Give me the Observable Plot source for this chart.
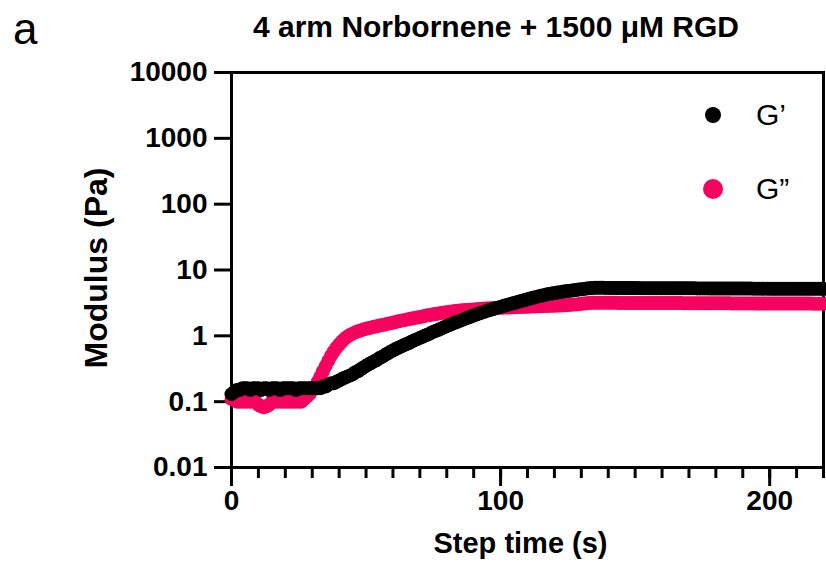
<!DOCTYPE html>
<html>
<head>
<meta charset="utf-8">
<script src="https://cdn.jsdelivr.net/npm/d3@7"></script>
<script src="https://cdn.jsdelivr.net/npm/@observablehq/plot@0.6"></script>
<style>
  html, body { margin: 0; padding: 0; background: #fff; }
  #wrap { position: relative; width: 826px; height: 574px; font-family: "Liberation Sans", Arial, sans-serif; color: #000; }
  #wrap svg { position: absolute; left: 0; top: 0; }
  .ovl { position: absolute; white-space: nowrap; line-height: 1; }
  .panel { left: 13px; top: 7px; font-size: 44px; }
  .title { left: 496px; top: 12px; transform: translateX(-50%); font-size: 30px; font-weight: bold; }
  .ylabel { left: 96px; top: 268px; transform: translate(-50%, -50%) rotate(-90deg); font-size: 32px; font-weight: bold; }
  .key-dot { position: absolute; border-radius: 50%; }
  .key-text { font-size: 30px; }
</style>
</head>
<body>
<div id="wrap">
  <div class="ovl panel">a</div>
  <div class="ovl title">4 arm Norbornene + 1500 μM RGD</div>
  <div class="ovl ylabel">Modulus (Pa)</div>
</div>
<script>
// Oscillatory time sweep, one reading per second from 0 to 220 s
const STEP = 1;

// Storage modulus G′ (Pa)
const storageModulus = [
  0.13, 0.14, 0.15, 0.15, 0.16, 0.16, 0.16, 0.15, 0.16, 0.16,
  0.16, 0.15, 0.16, 0.16, 0.15, 0.16, 0.16, 0.16, 0.15, 0.16,
  0.16, 0.16, 0.16, 0.16, 0.15, 0.16, 0.16, 0.16, 0.16, 0.16,
  0.16, 0.16, 0.16, 0.16, 0.17, 0.17, 0.18, 0.19, 0.19, 0.20,
  0.21, 0.22, 0.23, 0.24, 0.25, 0.26, 0.28, 0.29, 0.31, 0.33,
  0.35, 0.37, 0.39, 0.41, 0.43, 0.46, 0.48, 0.51, 0.54, 0.57,
  0.60, 0.63, 0.66, 0.69, 0.72, 0.75, 0.78, 0.82, 0.86, 0.89,
  0.93, 0.97, 1.01, 1.05, 1.10, 1.15, 1.19, 1.24, 1.29, 1.35,
  1.41, 1.46, 1.52, 1.58, 1.64, 1.70, 1.76, 1.83, 1.90, 1.97,
  2.04, 2.11, 2.18, 2.25, 2.32, 2.40, 2.47, 2.54, 2.61, 2.68,
  2.75, 2.83, 2.91, 2.99, 3.07, 3.16, 3.24, 3.33, 3.42, 3.51,
  3.60, 3.69, 3.78, 3.87, 3.97, 4.07, 4.15, 4.23, 4.31, 4.39,
  4.47, 4.54, 4.60, 4.67, 4.74, 4.80, 4.86, 4.92, 4.98, 5.04,
  5.10, 5.16, 5.22, 5.28, 5.34, 5.38, 5.38, 5.37, 5.36, 5.35,
  5.35, 5.34, 5.34, 5.33, 5.33, 5.33, 5.32, 5.32, 5.32, 5.31,
  5.31, 5.31, 5.30, 5.30, 5.30, 5.30, 5.29, 5.29, 5.29, 5.29,
  5.28, 5.28, 5.28, 5.28, 5.27, 5.27, 5.27, 5.27, 5.26, 5.26,
  5.26, 5.26, 5.26, 5.25, 5.25, 5.25, 5.25, 5.25, 5.24, 5.24,
  5.24, 5.24, 5.24, 5.23, 5.23, 5.23, 5.23, 5.23, 5.22, 5.22,
  5.22, 5.22, 5.22, 5.22, 5.21, 5.21, 5.21, 5.21, 5.21, 5.21,
  5.20, 5.20, 5.20, 5.20, 5.20, 5.20, 5.19, 5.19, 5.19, 5.19,
  5.19, 5.19, 5.18, 5.18, 5.18, 5.18, 5.18, 5.18, 5.17, 5.17, 5.17
];

// Loss modulus G″ (Pa)
const lossModulus = [
  0.11, 0.11, 0.10, 0.10, 0.10, 0.10, 0.10, 0.10, 0.10, 0.10,
  0.09, 0.085, 0.082, 0.085, 0.09, 0.10, 0.10, 0.10, 0.10, 0.10,
  0.10, 0.10, 0.10, 0.10, 0.10, 0.10, 0.10, 0.11, 0.12, 0.13,
  0.15, 0.17, 0.20, 0.24, 0.29, 0.35, 0.42, 0.50, 0.58, 0.66,
  0.74, 0.82, 0.90, 0.97, 1.03, 1.08, 1.13, 1.17, 1.21, 1.25,
  1.28, 1.31, 1.34, 1.37, 1.40, 1.43, 1.46, 1.49, 1.52, 1.55,
  1.58, 1.62, 1.66, 1.70, 1.73, 1.76, 1.80, 1.83, 1.87, 1.90,
  1.93, 1.97, 2.01, 2.05, 2.08, 2.12, 2.15, 2.19, 2.22, 2.26,
  2.29, 2.32, 2.35, 2.38, 2.40, 2.42, 2.44, 2.46, 2.48, 2.50,
  2.52, 2.54, 2.56, 2.57, 2.59, 2.60, 2.62, 2.63, 2.65, 2.66,
  2.67, 2.68, 2.69, 2.70, 2.71, 2.72, 2.73, 2.74, 2.75, 2.76,
  2.77, 2.78, 2.79, 2.80, 2.81, 2.82, 2.83, 2.84, 2.85, 2.86,
  2.87, 2.88, 2.89, 2.90, 2.92, 2.94, 2.96, 2.98, 3.00, 3.03,
  3.06, 3.09, 3.12, 3.15, 3.17, 3.18, 3.18, 3.18, 3.18, 3.17,
  3.17, 3.17, 3.17, 3.17, 3.16, 3.16, 3.16, 3.16, 3.16, 3.16,
  3.16, 3.15, 3.15, 3.15, 3.15, 3.15, 3.15, 3.15, 3.15, 3.14,
  3.14, 3.14, 3.14, 3.14, 3.14, 3.14, 3.14, 3.14, 3.13, 3.13,
  3.13, 3.13, 3.13, 3.13, 3.13, 3.13, 3.13, 3.12, 3.12, 3.12,
  3.12, 3.12, 3.12, 3.12, 3.12, 3.12, 3.11, 3.11, 3.11, 3.11,
  3.11, 3.11, 3.11, 3.11, 3.11, 3.10, 3.10, 3.10, 3.10, 3.10,
  3.10, 3.10, 3.10, 3.10, 3.10, 3.10, 3.09, 3.09, 3.09, 3.09,
  3.09, 3.09, 3.09, 3.09, 3.09, 3.09, 3.08, 3.08, 3.08, 3.08, 3.08
];

const seriesNames = ["G’", "G”"];
const seriesColors = ["#000000", "#f5045f"];

const yTicks = [0.01, 0.1, 1, 10, 100, 1000, 10000];
const xTicks = [0, 100, 200];
const xMinorTicks = [0, 10, 20, 30, 40, 50, 60, 70, 80, 90, 100, 110,
                     120, 130, 140, 150, 160, 170, 180, 190, 200, 210, 220];

const toRows = (values) => values.map((v, i) => ({t: i * STEP, v}));
const storageRows = toRows(storageModulus);
const lossRows = toRows(lossModulus);

const font = "'Liberation Sans', Arial, sans-serif";

const chart = Plot.plot({
  width: 826,
  height: 574,
  marginLeft: 231,
  marginRight: 3,
  marginTop: 72,
  marginBottom: 107,
  x: {domain: [0, 220], axis: null},
  y: {type: "log", domain: [0.01, 10000], axis: null},
  style: {fontFamily: font, color: "#000", background: "transparent"},
  marks: [
    Plot.frame({stroke: "#000", strokeWidth: 3}),
    Plot.axisX({ticks: xMinorTicks, tickSize: 11, strokeWidth: 3, tickFormat: () => "", label: null}),
    Plot.axisX({ticks: xTicks, tickSize: 19, tickPadding: 4, strokeWidth: 3,
                fontSize: 28, fontWeight: "bold", tickFormat: d => String(d), label: null}),
    Plot.axisY({ticks: yTicks, tickSize: 17, tickPadding: 7, strokeWidth: 3,
                fontSize: 28, fontWeight: "bold", tickFormat: d => String(d), label: null}),
    Plot.text(["Step time (s)"], {frameAnchor: "bottom", dy: 76, dx: -7, lineAnchor: "middle",
                fontSize: 29, fontWeight: "bold"}),
    Plot.dot(lossRows, {x: "t", y: "v", r: 7, fill: seriesColors[1], stroke: "none"}),
    Plot.dot(storageRows, {x: "t", y: "v", r: 7, fill: seriesColors[0], stroke: "none"})
  ]
});

const wrap = document.getElementById("wrap");
wrap.insertBefore(chart, wrap.firstChild);

// Key in the upper right of the plotting area
const keyItems = [
  {name: seriesNames[0], color: seriesColors[0], cy: 115, r: 8},
  {name: seriesNames[1], color: seriesColors[1], cy: 189, r: 10}
];
for (const k of keyItems) {
  const dot = document.createElement("div");
  dot.className = "key-dot";
  dot.style.left = (713 - k.r) + "px";
  dot.style.top = (k.cy - k.r) + "px";
  dot.style.width = dot.style.height = (2 * k.r) + "px";
  dot.style.background = k.color;
  wrap.appendChild(dot);
  const label = document.createElement("div");
  label.className = "ovl key-text";
  label.textContent = k.name;
  label.style.left = "756px";
  label.style.top = (k.cy - 15) + "px";
  wrap.appendChild(label);
}
</script>
</body>
</html>
